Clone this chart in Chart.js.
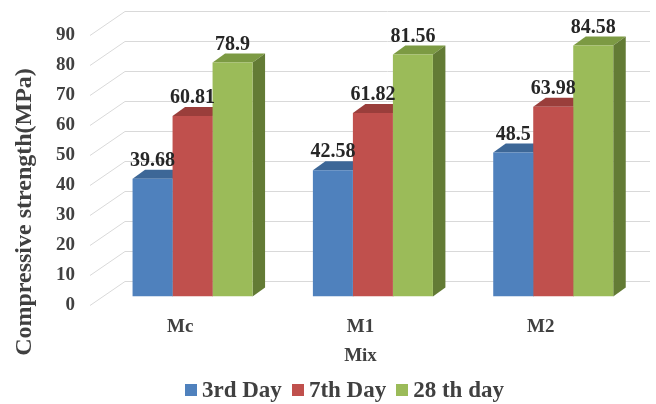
<!DOCTYPE html>
<html>
<head>
<meta charset="utf-8">
<script src="https://cdn.jsdelivr.net/npm/chart.js@4.4.0/dist/chart.umd.min.js"></script>
<style>
  html, body { margin: 0; padding: 0; background: #fff; }
  #wrap { position: relative; width: 656px; height: 404px; }
  #legend {
    position: absolute; left: 185px; top: 377px; height: 26px;
    display: flex; align-items: center; white-space: nowrap;
    font: bold 23px 'Liberation Serif', 'Times New Roman', serif; color: #404040;
  }
  #legend .item { display: flex; align-items: center; margin-right: 10px; }
  #legend .box { width: 12px; height: 12px; margin-right: 5px; }
</style>
</head>
<body>
<div id="wrap">
  <canvas id="c" width="656" height="404"></canvas>
  <div id="legend"></div>
</div>
<script>
// Mix designs and compressive strength (MPa) at each curing age
const mixes = ['Mc', 'M1', 'M2'];
const ageNames = ['3rd Day', '7th Day', '28 th day'];
const day3 = [39.68, 42.58, 48.5];
const day7 = [60.81, 61.82, 63.98];
const day28 = [78.9, 81.56, 84.58];
const strengthTicks = [0, 10, 20, 30, 40, 50, 60, 70, 80, 90];

const FONT = "'Liberation Serif', 'Times New Roman', serif";
const TEXT = '#404040';
const frontColors = ['#4F81BD', '#C0504D', '#9BBB59'];
const topColors = ['#3D6797', '#9A3E3B', '#7C9A43'];
const sideColors = ['#365B88', '#8A3734', '#637B35'];

// Depth of the back wall relative to the front plane, where the bars stand, and bar thickness
const WALL = { dx: 35, dy: -24 };
const BAR_PLANE = { dx: 12.4, dy: -8.5 };
const BAR_DEPTH = { dx: 12.5, dy: -9 };

const series = [day3, day7, day28];

const pseudo3d = {
  id: 'pseudo3d',
  beforeDatasetsDraw(chart) {
    const ctx = chart.ctx;
    const ys = chart.scales.y;
    const x0 = chart.chartArea.left;
    // floor edges and back-wall gridlines
    ctx.save();
    ctx.strokeStyle = '#d9d9d9';
    ctx.lineWidth = 1;
    ys.ticks.forEach(t => {
      const py = Math.round(ys.getPixelForValue(t.value)) + 0.5;
      ctx.beginPath();
      ctx.moveTo(x0, py);
      ctx.lineTo(x0 + WALL.dx, py + WALL.dy);
      ctx.lineTo(650, py + WALL.dy);
      ctx.stroke();
    });
    ctx.restore();

    // bars sit a little behind the front plane
    ctx.save();
    ctx.translate(BAR_PLANE.dx, BAR_PLANE.dy);
    chart.data.datasets.forEach((ds, di) => {
      const meta = chart.getDatasetMeta(di);
      meta.data.forEach(bar => {
        const l = bar.x - bar.width / 2, r = bar.x + bar.width / 2;
        const top = bar.y, base = bar.base;
        // top face
        ctx.fillStyle = topColors[di];
        ctx.beginPath();
        ctx.moveTo(l, top);
        ctx.lineTo(r, top);
        ctx.lineTo(r + BAR_DEPTH.dx, top + BAR_DEPTH.dy);
        ctx.lineTo(l + BAR_DEPTH.dx, top + BAR_DEPTH.dy);
        ctx.closePath();
        ctx.fill();
        // side face
        ctx.fillStyle = sideColors[di];
        ctx.beginPath();
        ctx.moveTo(r, top);
        ctx.lineTo(r + BAR_DEPTH.dx, top + BAR_DEPTH.dy);
        ctx.lineTo(r + BAR_DEPTH.dx, base + BAR_DEPTH.dy);
        ctx.lineTo(r, base);
        ctx.closePath();
        ctx.fill();
      });
    });
  },
  afterDatasetsDraw(chart) {
    const ctx = chart.ctx;
    // value labels above each bar
    ctx.fillStyle = '#262626';
    ctx.font = 'bold 20px ' + FONT;
    ctx.textAlign = 'center';
    ctx.textBaseline = 'middle';
    chart.data.datasets.forEach((ds, di) => {
      chart.getDatasetMeta(di).data.forEach((bar, i) => {
        ctx.fillText(String(ds.data[i]), bar.x, bar.y - 18);
      });
    });
    ctx.restore();
  },
  afterDraw(chart) {
    const ctx = chart.ctx;
    ctx.save();
    ctx.translate(25, 212);
    ctx.rotate(-Math.PI / 2);
    ctx.fillStyle = TEXT;
    ctx.font = 'bold 24px ' + FONT;
    ctx.textAlign = 'center';
    ctx.textBaseline = 'middle';
    ctx.fillText('Compressive strength(MPa)', 0, 0);
    ctx.restore();
  }
};

const chart = new Chart(document.getElementById('c'), {
  type: 'bar',
  data: {
    labels: mixes,
    datasets: series.map((vals, i) => ({
      label: ageNames[i],
      data: vals,
      backgroundColor: frontColors[i],
      borderWidth: 0,
      yAxisID: 'yb'
    }))
  },
  options: {
    responsive: false,
    animation: false,
    layout: { padding: { left: 0, right: 25, top: 35, bottom: 29 } },
    datasets: { bar: { categoryPercentage: 0.6655, barPercentage: 1.0 } },
    plugins: { legend: { display: false }, tooltip: { enabled: false } },
    scales: {
      x: {
        grid: { display: false, drawTicks: false, tickLength: 0 },
        border: { display: false },
        ticks: { font: { family: FONT, size: 19, weight: 'bold' }, color: TEXT, padding: 11 },
        title: {
          display: true, text: 'Mix', color: TEXT,
          font: { family: FONT, size: 19, weight: 'bold' },
          padding: { top: 0, bottom: 8 }
        },
        afterFit: s => { s.height = 70; }
      },
      y: {
        min: 0, max: 90,
        grid: { display: false, drawTicks: false, tickLength: 0 },
        border: { display: false },
        ticks: { font: { family: FONT, size: 19, weight: 'bold' }, color: TEXT, padding: 15 },
        afterBuildTicks: s => { s.ticks = strengthTicks.map(v => ({ value: v })); },
        afterFit: s => { s.width = 90; }
      },
      yb: { min: 0, max: 91, display: false }
    }
  },
  plugins: [pseudo3d]
});

// legend built from the datasets
const legend = document.getElementById('legend');
chart.data.datasets.forEach(ds => {
  const item = document.createElement('div');
  item.className = 'item';
  const box = document.createElement('span');
  box.className = 'box';
  box.style.background = ds.backgroundColor;
  const label = document.createElement('span');
  label.textContent = ds.label;
  item.appendChild(box);
  item.appendChild(label);
  legend.appendChild(item);
});
</script>
</body>
</html>
